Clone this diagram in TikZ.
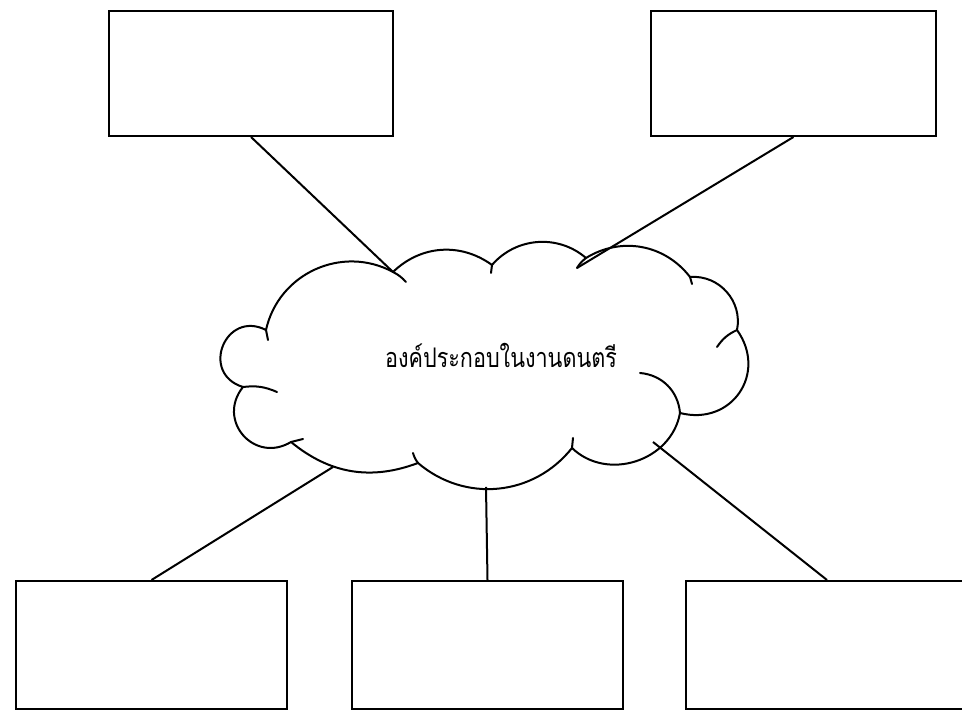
\documentclass[tikz,border=0pt]{standalone}
\usepackage{fontspec}
\newfontfamily\thaifont[Script=Thai,FakeStretch=0.8]{Loma}
\begin{document}
\begin{tikzpicture}[x=1pt,y=1pt,
    box/.style={draw,line width=2pt,rectangle,inner sep=0pt},
    link/.style={line width=2pt},
    puff/.style={line width=2pt,line cap=round,line join=round}]
\useasboundingbox (0,0) rectangle (962,711);
% boxes
\node[box,minimum width=284pt,minimum height=125pt] (tl) at (251,637.5) {};
\node[box,minimum width=285pt,minimum height=125pt] (tr) at (793.5,637.5) {};
\node[box,minimum width=271pt,minimum height=128.5pt] (bl) at (151.5,65.75) {};
\node[box,minimum width=271pt,minimum height=128.5pt] (bm) at (487.5,65.75) {};
\node[box,minimum width=282pt,minimum height=128.5pt] (br) at (827,65.75) {};

% cloud
\coordinate (p1) at (266,381);
\coordinate (p2) at (243,324);
\coordinate (p3) at (291,269);
\coordinate (p4) at (418,248);
\coordinate (p5) at (572,263);
\coordinate (p6) at (680,298);
\coordinate (p7) at (737,381);
\coordinate (p8) at (690,434);
\coordinate (p9) at (586,453);
\coordinate (p10) at (492,446);
\coordinate (p11) at (393,439);
\draw[puff,fill=white] (p1) to[bend left=53,looseness=1.06] (p11)
    to[bend left=40] (p10)
    to[bend left=45] (p9)
    to[bend left=42] (p8)
    to[bend left=53,looseness=1.06] (p7)
    to[bend left=70,looseness=1.35] (p6)
    to[bend left=62,looseness=1.1] (p5)
    to[bend left=46,looseness=1.02] (p4)
    to[bend left=30] (p3)
    to[bend left=80,looseness=1.5] (p2)
    to[bend left=95,looseness=1.9] (p1);
% inner strokes
\coordinate (q9) at (577,443);
\draw[puff] (p1) -- (268,371);
\draw[puff] (p2) to[bend left=15] (277,319);
\draw[puff] (p3) -- (303,272);
\draw[puff] (p4) to[bend left=10] (413,258);
\draw[puff] (p5) -- (573,273);
\draw[puff] (p6) to[bend right=40] (640,338);
\draw[puff] (p7) to[bend right=15] (717,364);
\draw[puff] (p8) -- (692,427);
\draw[puff] (p9) to[bend right=10] (q9);
\draw[puff] (p10) -- (491,438);
\draw[puff] (p11) to[bend left=10] (406,429);
\node (cloud) at (501,356) {\thaifont\fontsize{27}{32}\selectfont องค์ประกอบในงานดนตรี};

% connectors
\coordinate (b1) at (333,244);
\coordinate (b2) at (486,224);
\coordinate (b3) at (653,269);
\draw[link] (tl.south) -- (p11);
\draw[link] (tr.south) -- (q9);
\draw[link] (bl.north) -- (b1);
\draw[link] (bm.north) -- (b2);
\draw[link] (br.north) -- (b3);
\end{tikzpicture}
\end{document}
